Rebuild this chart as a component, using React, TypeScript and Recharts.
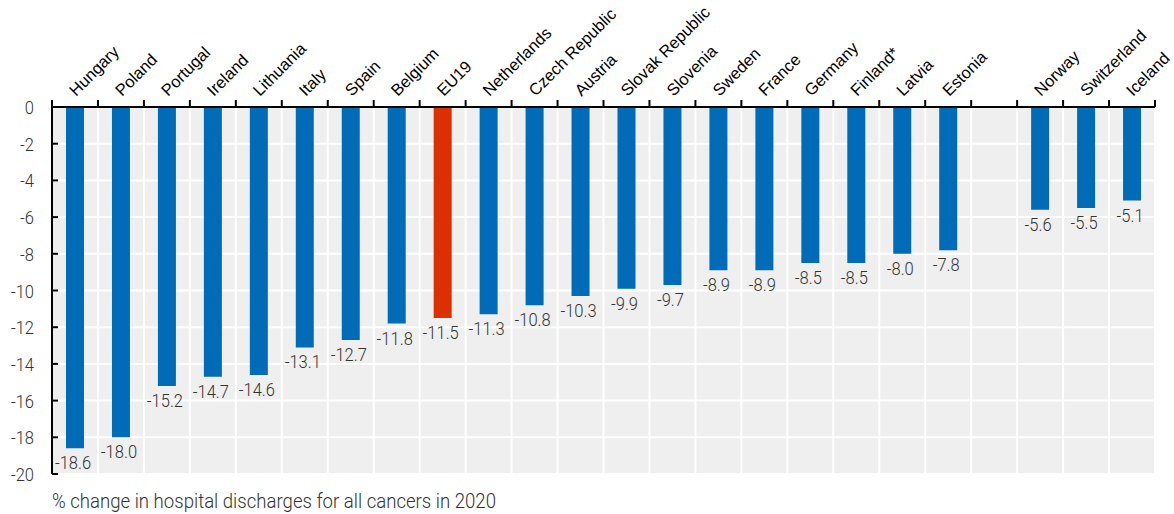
import React from "react";
import { BarChart, Bar, XAxis, YAxis, CartesianGrid, Cell, LabelList } from "recharts";

const countries = [
  "Hungary", "Poland", "Portugal", "Ireland", "Lithuania", "Italy", "Spain", "Belgium",
  "EU19", "Netherlands", "Czech Republic", "Austria", "Slovak Republic", "Slovenia",
  "Sweden", "France", "Germany", "Finland*", "Latvia", "Estonia", "", "Norway",
  "Switzerland", "Iceland",
];
const values: (number | null)[] = [
  -18.6, -18.0, -15.2, -14.7, -14.6, -13.1, -12.7, -11.8, -11.5, -11.3, -10.8, -10.3,
  -9.9, -9.7, -8.9, -8.9, -8.5, -8.5, -8.0, -7.8, null, -5.6, -5.5, -5.1,
];
const highlight = ["EU19"];
const yTicks = [0, -2, -4, -6, -8, -10, -12, -14, -16, -18, -20];
const caption = "% change in hospital discharges for all cancers in 2020";

const data = countries.map((name, i) => ({ name, value: values[i] }));

const BLUE = "#006BB6";
const RED = "#DB3000";
const W = 1174;
const H = 514;
const N = countries.length;
const NARROW = "Roboto, 'Liberation Sans', sans-serif";
const SQUEEZE = 0.87;

const NarrowText = ({ x, y, anchor, size, children }: any) => (
  <g transform={`translate(${x} ${y}) scale(${SQUEEZE} 1)`}>
    <text x={0} y={0} textAnchor={anchor} fontSize={size} fontWeight={300} fill="#333" fontFamily={NARROW}>
      {children}
    </text>
  </g>
);

const CatTick = (props: any) => {
  const { x, y, payload, index } = props;
  const half = payload.offset ?? 0;
  const left = payload.coordinate - half;
  const right = payload.coordinate + half;
  const tx = x + 1;
  const ty = y - 3;
  return (
    <g>
      <line x1={left} x2={left} y1={y} y2={y + 7} stroke="#000" strokeWidth={2} />
      {index === N - 1 && (
        <line x1={right} x2={right} y1={y} y2={y + 7} stroke="#000" strokeWidth={2} />
      )}
      {payload.value ? (
        <text
          x={tx}
          y={ty}
          transform={`rotate(-45 ${tx} ${ty})`}
          textAnchor="start"
          fontSize={16.5}
          fill="#000"
          fontFamily="'Liberation Sans', Arial, sans-serif"
        >
          {payload.value}
        </text>
      ) : null}
    </g>
  );
};

const YTick = (props: any) => {
  const { x, y, payload } = props;
  return (
    <NarrowText x={x} y={y + 7} anchor="end" size={19}>
      {payload.value}
    </NarrowText>
  );
};

const ValueLabel = (props: any) => {
  const { x, y, width, height, value } = props;
  if (value === null || value === undefined) return null;
  const bottom = Math.max(y, y + height);
  return (
    <NarrowText x={x + width / 2 - 2} y={bottom + 21} anchor="middle" size={19}>
      {Number(value).toFixed(1)}
    </NarrowText>
  );
};

export default function App() {
  const margin = { top: 7, right: 19, bottom: 40, left: 0 };
  return (
    <div style={{ position: "absolute", left: 0, top: 0, width: W, height: H, background: "#fff" }}>
      <BarChart width={W} height={H} data={data} margin={margin} barSize={18}>
        <CartesianGrid
          fill="#EFEFEF"
          stroke="#FFFFFF"
          strokeWidth={2}
          verticalCoordinatesGenerator={({ offset }: any) =>
            Array.from({ length: N + 1 }, (_, i) => offset.left + (i * offset.width) / N)
          }
        />
        <XAxis
          dataKey="name"
          orientation="top"
          height={100}
          interval={0}
          tickLine={false}
          tickSize={7}
          tickMargin={0}
          axisLine={{ stroke: "#000", strokeWidth: 2 }}
          tick={<CatTick />}
        />
        <YAxis
          type="number"
          domain={[-20, 0]}
          ticks={yTicks}
          interval={0}
          width={52}
          tickSize={-6}
          tickMargin={24}
          axisLine={{ stroke: "#000", strokeWidth: 2 }}
          tickLine={{ stroke: "#000", strokeWidth: 2 }}
          tick={<YTick />}
        />
        <Bar dataKey="value" isAnimationActive={false}>
          {data.map((d) => (
            <Cell key={d.name || "gap"} fill={highlight.includes(d.name) ? RED : BLUE} />
          ))}
          <LabelList dataKey="value" content={<ValueLabel />} />
        </Bar>
      </BarChart>
      <div
        style={{
          position: "absolute",
          left: 52,
          top: 489,
          fontSize: 21,
          lineHeight: "24px",
          fontWeight: 300,
          color: "#333",
          fontFamily: NARROW,
          whiteSpace: "nowrap",
          transform: "scaleX(0.885)",
          transformOrigin: "left top",
        }}
      >
        {caption}
      </div>
    </div>
  );
}
